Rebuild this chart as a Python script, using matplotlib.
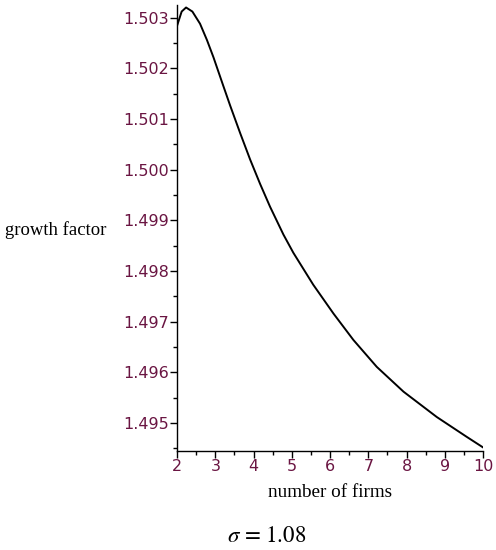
import matplotlib
matplotlib.use('Agg')
import matplotlib.pyplot as plt
from matplotlib.ticker import MultipleLocator

# growth factor vs number of firms (sigma = 1.08)
firms = [2.0, 2.03, 2.12, 2.235, 2.4, 2.6, 2.78, 2.95, 3.21, 3.39, 3.65, 3.91, 4.17, 4.43,
         4.78, 5.04, 5.56, 6.09, 6.61, 7.22, 7.92, 8.79, 9.57, 10.0]
growth = [1.50284, 1.50291, 1.50312, 1.50320, 1.50312, 1.50288, 1.50256, 1.50222, 1.50165, 1.50126,
          1.50072, 1.50020, 1.49972, 1.49927, 1.49872, 1.49836, 1.49773, 1.49716, 1.49664, 1.49611,
          1.49562, 1.49512, 1.49473, 1.49452]

ytick_vals = [1.495, 1.496, 1.497, 1.498, 1.499, 1.500, 1.501, 1.502, 1.503]
xtick_vals = [2, 3, 4, 5, 6, 7, 8, 9, 10]

tickcol = '#6a1542'

fig = plt.figure(figsize=(4.96, 5.5), dpi=100)
ax = fig.add_axes([0.357, 0.18, 0.617, 0.811])
ax.plot(firms, growth, color='black', lw=1.4)

ax.set_xlim(2, 10)
ax.set_ylim(1.49445, 1.50325)
ax.set_xticks(xtick_vals)
ax.set_yticks(ytick_vals)
ax.set_yticklabels(['%.3f' % v for v in ytick_vals])
ax.xaxis.set_minor_locator(MultipleLocator(0.5))
ax.yaxis.set_minor_locator(MultipleLocator(0.0005))
for s in ['top', 'right']:
    ax.spines[s].set_visible(False)
for s in ['left', 'bottom']:
    ax.spines[s].set_linewidth(1.0)
ax.tick_params(which='major', length=5, width=1, labelsize=11.5, labelcolor=tickcol, pad=1)
ax.tick_params(which='minor', length=3, width=1)
for lab in ax.get_xticklabels() + ax.get_yticklabels():
    lab.set_family('DejaVu Sans')

fig.text(0.113, 0.582, 'growth factor', family='Liberation Serif', fontsize=13.5, ha='center', va='center')
ax.set_xlabel('number of firms', family='Liberation Serif', fontsize=13.8, labelpad=7)
plt.rcParams['mathtext.fontset'] = 'stix'
fig.text(0.538, 0.024, r'$\sigma$ = 1.08', family='STIXGeneral', fontsize=16.5, ha='center', va='center')

fig.savefig('out.png', dpi=100)
